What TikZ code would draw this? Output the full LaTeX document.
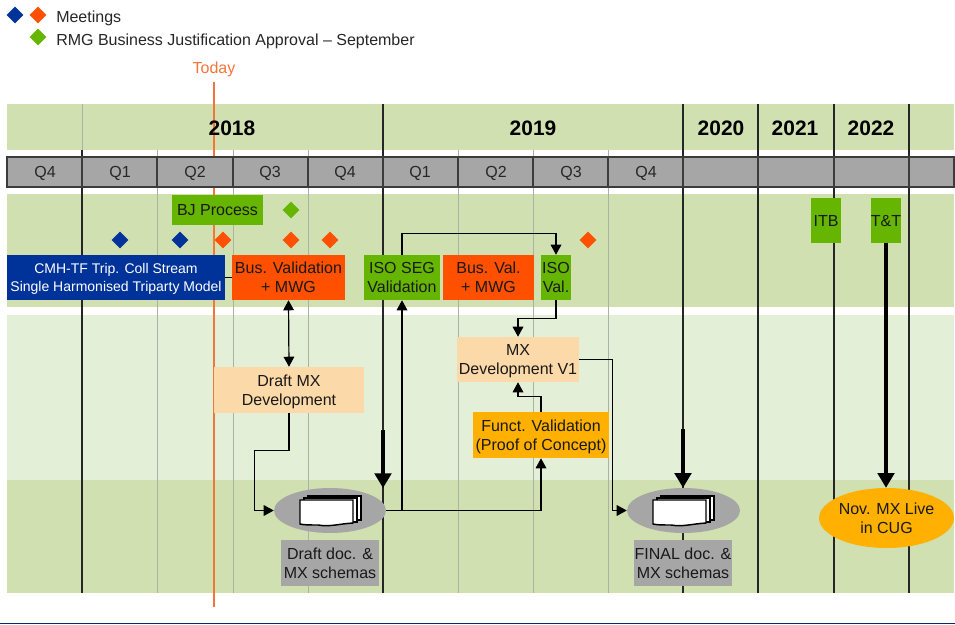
\documentclass[tikz,border=0pt]{standalone}
\usepackage{fontspec}
\setmainfont{Liberation Sans}
\usetikzlibrary{shapes.geometric,arrows.meta,calc}
\definecolor{bandA}{HTML}{D1E0B0}
\definecolor{bandB}{HTML}{E4EFD8}
\definecolor{barG}{HTML}{A6A6A6}
\definecolor{barE}{HTML}{3C3C3C}
\definecolor{gridG}{HTML}{ABB2A5}
\definecolor{todayC}{HTML}{F5743A}
\definecolor{blueC}{HTML}{003399}
\definecolor{orangeC}{HTML}{FF5000}
\definecolor{greenC}{HTML}{66B500}
\definecolor{peachC}{HTML}{FCD9A8}
\definecolor{amberC}{HTML}{FFB000}
\definecolor{footC}{HTML}{002B70}
\tikzset{
  txt/.style={font=\fontsize{12}{14}\selectfont,text=black!90,align=center,text depth=0pt},
  boxed/.style n args={3}{txt,fill=#1,inner sep=0pt,minimum width=#2*.75pt,minimum height=#3*.75pt},
  gem/.style={diamond,fill=#1,inner sep=0pt,minimum size=17*.75pt,aspect=1},
  oval/.style n args={3}{ellipse,fill=#1,inner sep=0pt,minimum width=#2*.75pt,minimum height=#3*.75pt},
  yearlab/.style={font=\bfseries\fontsize{15.7}{18}\selectfont,text=black},
  qlab/.style={font=\fontsize{12}{14}\selectfont,text=black!85},
  leg/.style={font=\fontsize{12}{14}\selectfont,text=black!85,anchor=west,inner sep=0pt},
  conn/.style={draw=black,line width=.9pt,-{Triangle[length=7.5pt,width=8pt]}},
  conn2/.style={draw=black,line width=.9pt,{Triangle[length=7.5pt,width=8pt]}-{Triangle[length=7.5pt,width=8pt]}},
  plain/.style={draw=black,line width=.9pt},
  thick arrow/.style={draw=black,line width=2.3pt,-{Triangle[length=11pt,width=12.5pt]}},
  grid g/.style={draw=gridG,line width=.75pt},
  grid k/.style={draw=black!85,line width=.8pt},
  sheet/.style={draw=black,line width=1.1pt,fill=white,line join=miter},
}
\newcommand{\docstack}[2]{%
  \begin{scope}[shift={(#1,#2)}]
    \draw[sheet] (-22,-15) -- (31,-15) -- (31,9) -- (-22,9) -- cycle;
    \draw[sheet] (-26,-13) -- (27,-13) -- (27,11) -- (-26,11) -- cycle;
    \draw[sheet] (-30,-11) -- (23,-11) -- (23,12) .. controls (8,13) and (0,16) .. (-12,14) .. controls (-20,14) and (-26,14) .. (-30,13) -- cycle;
  \end{scope}}
\begin{document}
\begin{tikzpicture}[x=.75pt,y=-.75pt]
\useasboundingbox (0,0) rectangle (955,624);
% bands
\fill[bandA] (7,104) rectangle (954,150);
\fill[bandA] (7,194) rectangle (954,307);
\fill[bandB] (7,315) rectangle (954,480);
\fill[bandA] (7,480) rectangle (954,593);
% today line
\coordinate (todayTop) at (214,82);
\coordinate (todayEnd) at (214,607);
\draw[draw=todayC,line width=.9pt] (todayTop) -- (todayEnd);
% grid lines
\draw[grid g] (82,104) -- (82,150);
\foreach \x in {157,233,308,458,533,608} \draw[grid g] (\x,150) -- (\x,593);
\draw[grid k] (82,150) -- (82,593);
\foreach \x in {383,683,758,834,909} \draw[grid k] (\x,104) -- (\x,593);
% quarter bar
\fill[barG] (7,157) rectangle (954,187);
\foreach \x in {82,157,233,308,383,458,533,608,683,758,834,909} \draw[draw=barE,line width=.9pt] (\x,157) -- (\x,187);
\draw[draw=barE,line width=.9pt] (7,157) rectangle (954,187);
% header labels
\node[yearlab] (y18) at (232,128) {2018};
\node[yearlab] (y19) at (533,128) {2019};
\node[yearlab] (y20) at (721,128) {2020};
\node[yearlab] (y21) at (795,128) {2021};
\node[yearlab] (y22) at (871,128) {2022};
\node[qlab] (q1) at (45,173.5) {Q4};
\node[qlab] (q2) at (120,173.5) {Q1};
\node[qlab] (q3) at (195,173.5) {Q2};
\node[qlab] (q4) at (270,173.5) {Q3};
\node[qlab] (q5) at (345,173.5) {Q4};
\node[qlab] (q6) at (420,173.5) {Q1};
\node[qlab] (q7) at (496,173.5) {Q2};
\node[qlab] (q8) at (571,173.5) {Q3};
\node[qlab] (q9) at (646,173.5) {Q4};
% legend
\node[gem=blueC] (lb) at (15,15) {};
\node[gem=orangeC] (lo) at (38,15) {};
\node[gem=greenC] (lg) at (38,37) {};
\node[leg] (lt1) at (56,18) {Meetings};
\node[leg] (lt2) at (56,41) {RMG Business Justification Approval – September};
\node[font=\fontsize{12}{14}\selectfont,text=todayC] (today) at (214,69) {Today};
% milestones
\node[gem=greenC] (m0) at (291,210) {};
\node[gem=blueC] (m1) at (120,240) {};
\node[gem=blueC] (m2) at (180,240) {};
\node[gem=orangeC] (m3) at (223,240) {};
\node[gem=orangeC] (m4) at (291,240) {};
\node[gem=orangeC] (m5) at (330,240) {};
\node[gem=orangeC] (m6) at (588,240) {};
% boxes
\node[boxed={greenC}{91}{30}] (bj) at (217.5,210) {BJ Process};
\node[boxed={blueC}{218}{45},text=white,font=\fontsize{10.5}{13.6}\selectfont] (cmh) at (116,277.5) {CMH-TF Trip. Coll Stream\\Single Harmonised Triparty Model};
\node[boxed={orangeC}{113}{45}] (bus) at (288.5,277.5) {Bus. Validation\\+ MWG};
\node[boxed={greenC}{76}{45}] (iso) at (402,277.5) {ISO SEG\\Validation};
\node[boxed={orangeC}{91}{45}] (busv) at (488.5,277.5) {Bus. Val.\\+ MWG};
\node[boxed={greenC}{30}{45}] (isov) at (556,277.5) {ISO\\Val.};
\node[boxed={greenC}{30}{45}] (itb) at (826,220.5) {ITB};
\node[boxed={greenC}{30}{45}] (tt) at (886,220.5) {T\&T};
\node[boxed={peachC}{122}{45}] (mxv) at (518,359.5) {MX\\Development V1};
\node[boxed={peachC}{150}{46},text depth=-.6pt] (draft) at (289,390) {Draft MX\\Development};
\node[boxed={amberC}{136}{46},text depth=-1pt] (funct) at (541,435) {Funct. Validation\\(Proof of Concept)};
\node[oval={barG}{112}{45}] (e1) at (330,510.5) {};
\node[oval={barG}{113}{45}] (e2) at (683.5,510.5) {};
\node[oval={amberC}{135}{60}] (nov) at (886.5,518) {};
\node[txt] (novt) at (886.5,518) {Nov. MX Live\\in CUG};
\node[boxed={barG}{98}{46},text depth=-.6pt] (dd) at (330,563) {Draft doc. \&\\MX schemas};
\node[boxed={barG}{98}{46},text depth=-.6pt] (fd) at (683,563) {FINAL doc. \&\\MX schemas};
\docstack{330}{511}
\docstack{683}{511}
% connectors
\draw[plain] (cmh.east) -- (bus.west);
\draw[conn2] (bus.south) -- (draft.north);
\draw[conn] (draft.south) -- ++(0,37) -| ($(e1.west)+(-19,0)$) -- (e1.west);
\draw[conn] (e1.east) -| (funct.south);
\draw[conn] (iso.south |- e1.east) -- (iso.south);
\draw[conn] (funct.north) -- ++(0,-15) -| (mxv.south);
\draw[conn] (isov.south) -- ++(0,18) -| (mxv.north);
\draw[conn] (iso.north) -- ++(0,-21) -| (isov.north);
\draw[conn] (mxv.east) -- ++(33,0) |- (e2.west);
\coordinate (t1) at (383,430);
\coordinate (t2) at (383,488);
\draw[thick arrow] (t1) -- (t2);
\coordinate (t3) at (683,429);
\draw[thick arrow] (t3) -- (t3 |- e2.north);
\draw[thick arrow] (tt.south) -- (tt.south |- nov.north);
% footer rule
\coordinate (fl) at (0,623.5);
\coordinate (fr) at (955,623.5);
\draw[draw=footC,line width=.9pt] (fl) -- (fr);
\end{tikzpicture}
\end{document}
